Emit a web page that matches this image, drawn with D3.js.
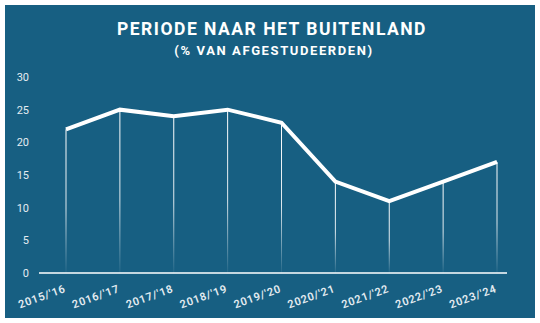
<!DOCTYPE html>
<html>
<head>
<meta charset="utf-8">
<script src="https://cdn.jsdelivr.net/npm/d3@7"></script>
<style>
  html, body { margin: 0; padding: 0; background: #ffffff; }
  svg { display: block; }
</style>
</head>
<body>
<svg id="chart" width="540" height="323"></svg>
<script>
// Share of graduates who spent a period abroad, per academic year
const years = ["2015/'16", "2016/'17", "2017/'18", "2018/'19", "2019/'20", "2020/'21", "2021/'22", "2022/'23", "2023/'24"];
const shares = [22, 25, 24, 25, 23, 14, 11, 14, 17];
const yTicks = [0, 5, 10, 15, 20, 25, 30];

const svg = d3.select("#chart");
const bg = "#175f82";

svg.append("rect")
  .attr("x", 5).attr("y", 5)
  .attr("width", 530).attr("height", 313)
  .attr("fill", bg);

svg.append("text")
  .attr("x", 272).attr("y", 35)
  .attr("text-anchor", "middle")
  .attr("fill", "#ffffff")
  .attr("font-family", "Roboto, sans-serif")
  .attr("font-weight", 700)
  .attr("font-size", 17.5)
  .attr("letter-spacing", 1.5)
  .text("PERIODE NAAR HET BUITENLAND");

svg.append("text")
  .attr("x", 274).attr("y", 55)
  .attr("text-anchor", "middle")
  .attr("fill", "#ffffff")
  .attr("font-family", "Roboto, sans-serif")
  .attr("font-weight", 700)
  .attr("font-size", 13)
  .attr("letter-spacing", 1.6)
  .text("(% VAN AFGESTUDEERDEN)");

const x = d3.scalePoint().domain(years).range([66, 497]);
const y = d3.scaleLinear().domain([0, 30]).range([273, 77]);

// fading drop lines from each point down to the baseline
const defs = svg.append("defs");
const grad = defs.append("linearGradient")
  .attr("id", "drop")
  .attr("gradientUnits", "objectBoundingBox")
  .attr("x1", 0).attr("y1", 0).attr("x2", 0).attr("y2", 1);
grad.append("stop").attr("offset", "0%").attr("stop-color", "#ffffff").attr("stop-opacity", 1);
grad.append("stop").attr("offset", "55%").attr("stop-color", "#ffffff").attr("stop-opacity", 0.85);
grad.append("stop").attr("offset", "100%").attr("stop-color", "#ffffff").attr("stop-opacity", 0.05);

svg.append("g")
  .selectAll("rect")
  .data(years)
  .join("rect")
  .attr("x", d => x(d) - 0.5)
  .attr("y", (d, i) => y(shares[i]))
  .attr("width", 1)
  .attr("height", (d, i) => y(0) - y(shares[i]))
  .attr("fill", "url(#drop)");

// y axis labels
svg.append("g")
  .selectAll("text")
  .data(yTicks)
  .join("text")
  .attr("x", 29)
  .attr("y", d => y(d))
  .attr("dy", "0.35em")
  .attr("text-anchor", "end")
  .attr("fill", "#e4ecf1")
  .attr("font-family", "Roboto, sans-serif")
  .attr("font-size", 11)
  .text(d => d);

// baseline
svg.append("line")
  .attr("x1", 39).attr("x2", 507)
  .attr("y1", y(0)).attr("y2", y(0))
  .attr("stroke", "#ffffff")
  .attr("stroke-width", 1.5);

// x axis labels
svg.append("g")
  .selectAll("text")
  .data(years)
  .join("text")
  .attr("transform", d => `translate(${x(d) - 1},${y(0) + 15}) rotate(-20)`)
  .attr("text-anchor", "end")
  .attr("dy", "0.35em")
  .attr("fill", "#e4ecf1")
  .attr("font-family", "Roboto, sans-serif")
  .attr("font-weight", 600)
  .attr("font-size", 11)
  .attr("letter-spacing", 0.7)
  .text(d => d);

// the series line
const line = d3.line()
  .x((d, i) => x(years[i]))
  .y(d => y(d));

svg.append("path")
  .datum(shares)
  .attr("d", line)
  .attr("fill", "none")
  .attr("stroke", "#ffffff")
  .attr("stroke-width", 4)
  .attr("stroke-linejoin", "miter");
</script>
</body>
</html>
